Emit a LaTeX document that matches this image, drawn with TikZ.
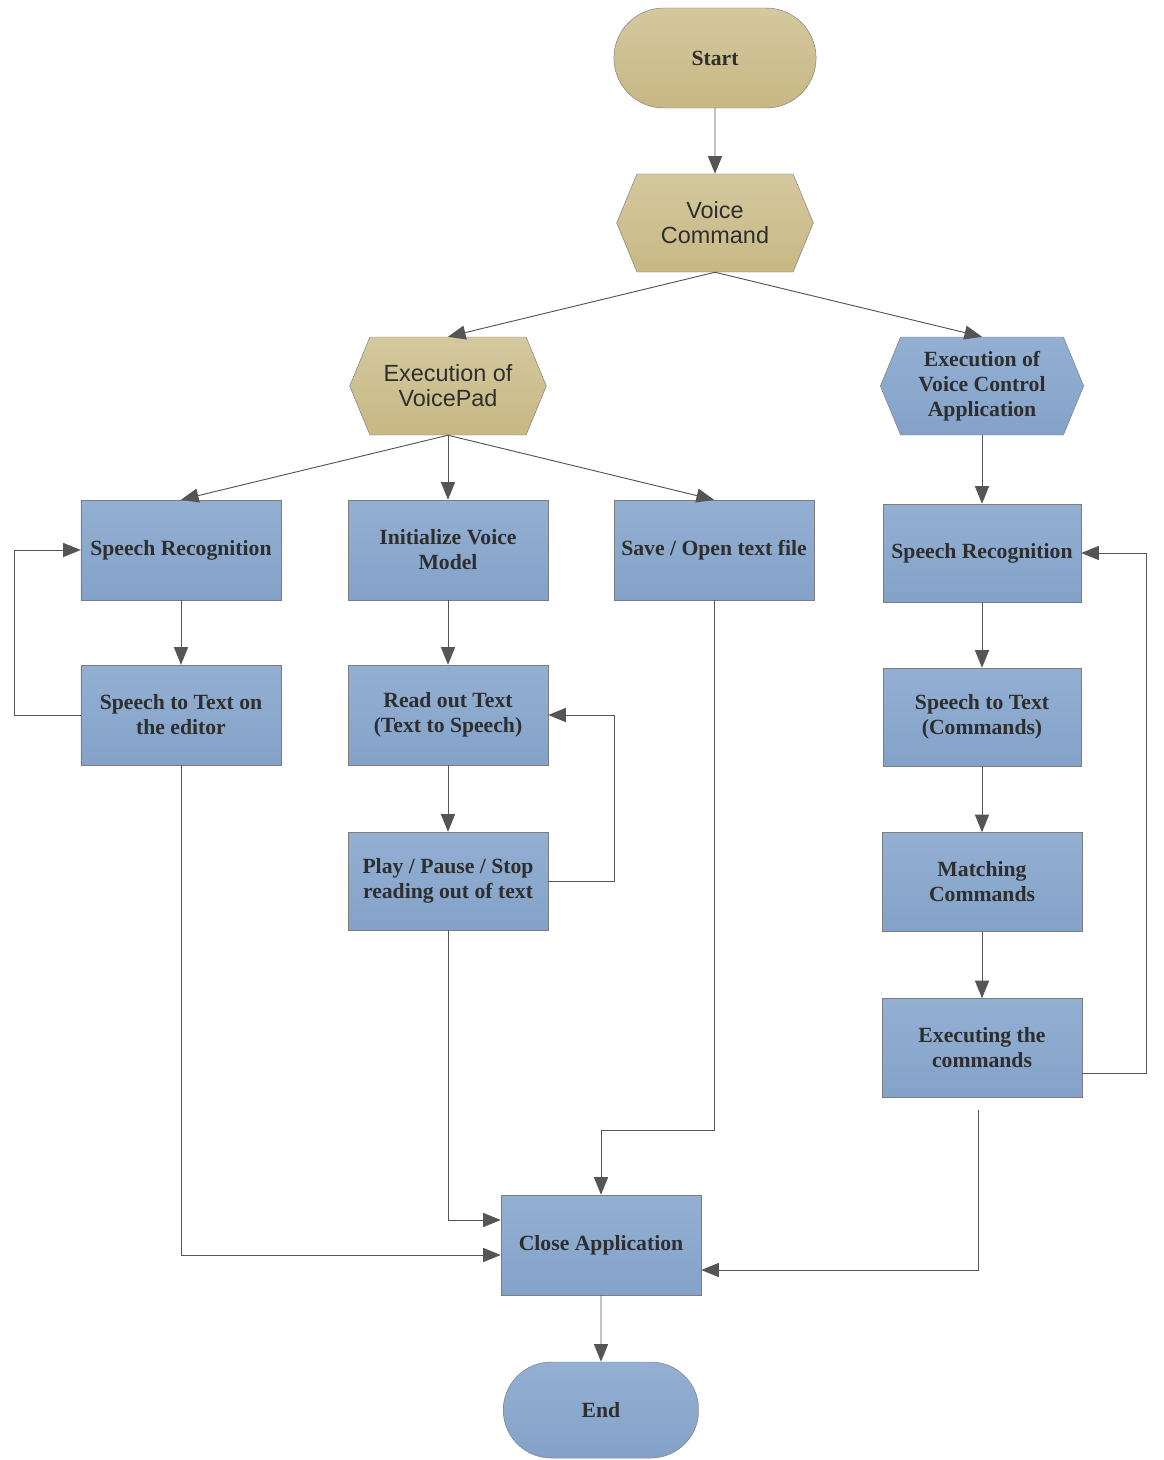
\documentclass[tikz,border=0pt]{standalone}
\usepackage{fontspec}
\setmainfont{Liberation Serif}
\newfontfamily\hexsans{Liberation Sans}
\usetikzlibrary{arrows.meta,shapes.symbols,shapes.misc}

\definecolor{sdtantop}{HTML}{D4C89E}
\definecolor{sdtanbot}{HTML}{C7B884}
\definecolor{sdbluetop}{HTML}{93B0D3}
\definecolor{sdbluebot}{HTML}{84A2C8}
\definecolor{sdedge}{HTML}{7C7C7C}
\definecolor{sdline}{HTML}{555555}
\definecolor{sdtext}{HTML}{2E2E2E}

\begin{document}
\begin{tikzpicture}[x=0.03cm, y=-0.03cm,
    tan/.style={top color=sdtantop, bottom color=sdtanbot},
    blue/.style={top color=sdbluetop, bottom color=sdbluebot},
    serifbold/.style={font=\fontsize{18.5}{21.3}\selectfont\bfseries},
    box/.style={draw=sdedge, blue, serifbold, text=sdtext, align=center,
                minimum width=6cm, minimum height=3cm},
    term/.style={rounded rectangle, draw=sdedge, serifbold, text=sdtext,
                 minimum width=6.3cm, minimum height=3cm},
    hex/.style={signal, signal to=west and east, signal pointer angle=135,
                draw=sdedge, text=sdtext, align=center, inner sep=1pt,
                minimum width=5.9cm, minimum height=2.94cm},
    arr/.style={draw=sdline, line width=0.8pt, -{Triangle[length=15pt,width=12pt]}}]
  \useasboundingbox (0,0) rectangle (1163,1460);

  \node[term,tan] (start) at (715, 58) {Start};
  \node[hex,tan,font=\hexsans\fontsize{20}{21.3}\selectfont] (cmd) at (715, 223) {Voice\\Command};
  \node[hex,tan,font=\hexsans\fontsize{20}{21.3}\selectfont] (pad) at (448, 386) {Execution of\\VoicePad};
  \node[hex,blue,serifbold,minimum width=6.1cm] (vca) at (982, 386) {Execution of\\Voice Control\\Application};

  \node[box] (srl) at (181, 550) {Speech Recognition};
  \node[box] (init) at (448, 550) {Initialize Voice\\Model};
  \node[box] (save) at (714, 550) {Save / Open text file};
  \node[box,minimum height=2.94cm,minimum width=5.94cm] (srr) at (982, 553) {Speech Recognition};

  \node[box] (stte) at (181, 715) {Speech to Text on\\the editor};
  \node[box] (read) at (448, 715) {Read out Text\\(Text to Speech)};
  \node[box,minimum height=2.94cm,minimum width=5.94cm] (sttc) at (982, 717) {Speech to Text\\(Commands)};

  \node[box,minimum height=2.94cm] (play) at (448, 881) {Play / Pause / Stop\\reading out of text};
  \node[box,minimum height=2.97cm] (match) at (982, 882) {Matching\\Commands};
  \node[box,minimum height=2.97cm] (exec) at (982, 1048) {Executing the\\commands};

  \node[box] (close) at (601, 1245) {Close Application};
  \node[term,blue,minimum width=6.1cm,minimum height=2.88cm] (fin) at (601, 1410) {End};
  \coordinate (execgap) at (978, 1110);

  \draw[arr] (start) -- (cmd);
  \draw[arr] (cmd.south) -- (pad.north);
  \draw[arr] (cmd.south) -- (vca.north);
  \draw[arr] (pad.south) -- (srl.north);
  \draw[arr] (pad.south) -- (init.north);
  \draw[arr] (pad.south) -- (save.north);
  \draw[arr] (vca.south) -- (srr.north);

  \draw[arr] (srl) -- (stte);
  \draw[arr] (stte.west) -- ++(-66,0) |- (srl.west);
  \draw[arr] (init) -- (read);
  \draw[arr] (read) -- (play);
  \draw[arr] (play.east) -- ++(66,0) |- (read.east);

  \draw[arr] (srr) -- (sttc);
  \draw[arr] (sttc) -- (match);
  \draw[arr] (match) -- (exec);
  \draw[arr] ([yshift=-0.75cm]exec.east) -- ++(64,0) |- (srr.east);

  \draw[arr] (save.south) -- ++(0,530) -| (close.north);
  \draw[arr] (play.south) |- ([yshift=0.75cm]close.west);
  \draw[arr] (stte.south) |- ([yshift=-0.3cm]close.west);
  \draw[arr] (execgap) |- ([yshift=-0.75cm]close.east);
  \draw[arr] (close) -- (fin);
\end{tikzpicture}
\end{document}
